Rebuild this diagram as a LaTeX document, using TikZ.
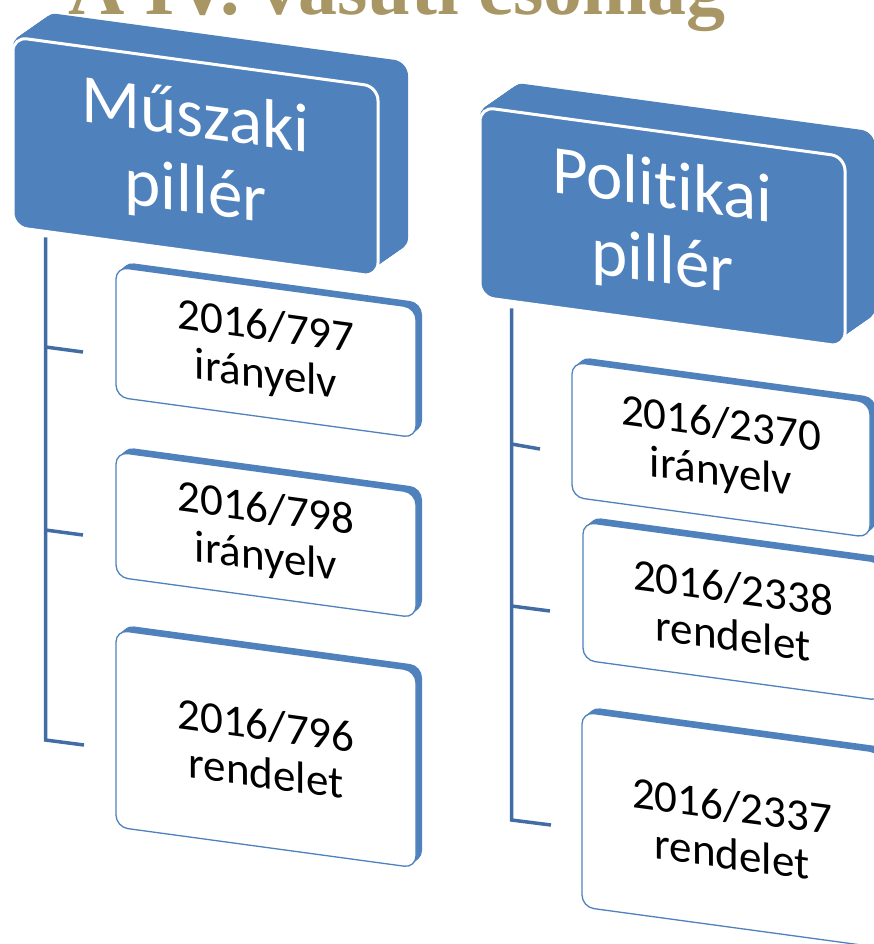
\documentclass[tikz,border=0pt]{standalone}
\usepackage{fontspec}
\setmainfont{Carlito}[RawFeature={-liga}]
\newfontfamily\titlefont{Liberation Serif}
\usetikzlibrary{positioning,calc}

\definecolor{pillarblue}{RGB}{79,129,189}
\definecolor{linkblue}{RGB}{66,109,164}
\definecolor{titlegold}{RGB}{168,150,100}

\tikzset{
  pillar/.style={fill=pillarblue, draw=white, line width=3pt, rounded corners=14pt,
    minimum width=365pt, minimum height=190pt, inner sep=0pt, align=center,
    text=white, font=\fontsize{69}{76}\selectfont, transform shape},
  act/.style={fill=white, draw=pillarblue, line width=1.3pt, rounded corners=12pt,
    inner sep=0pt, align=center, font=\fontsize{45}{48}\selectfont, transform shape},
  link/.style={draw=linkblue, line width=3.5pt},
}

\begin{document}
\begin{tikzpicture}[x=1pt, y=-1pt]
\useasboundingbox (0,0) rectangle (874,944);
\clip (0,0) rectangle (874,944);

% Pillars
\foreach \name/\bx/\by/\first/\second in {muszaki/13/33/Műszaki/pillér, politikai/480/103/Politikai/pillér} {
  \begin{scope}[shift={(\bx,\by)}, yslant=-0.136]
    \foreach \k in {0,...,30}
      \fill[pillarblue, rounded corners=14pt] (\k,-\k*25/30) rectangle ++(365,190);
    \node[pillar] (\name) at (182.5,99) {\first\\\second};
  \end{scope}
}

% Acts under the pillars
\foreach \name/\bx/\by/\w/\h/\num/\kind in {
    a797/116/267/300/130/{2016/797}/irányelv,
    a798/116/452/300/125/{2016/798}/irányelv,
    a796/116/630/300/197/{2016/796}/rendelet,
    a2370/572/362/298/135/{2016/2370}/irányelv,
    a2338/583/522/300/138/{2016/2338}/rendelet,
    a2337/582/712/300/195/{2016/2337}/rendelet} {
  \begin{scope}[shift={(\bx,\by)}, yslant=-0.136]
    \foreach \k in {1,...,6}
      \fill[pillarblue, rounded corners=12pt] (\k,-\k) rectangle ++(\w,\h);
    \node[act, minimum width=\w pt, minimum height=\h pt] (\name) at (\w/2,\h/2) {\num\\\kind};
  \end{scope}
}

% Brackets
\coordinate (mtop) at ($(muszaki.south west)+(34,9)$);
\coordinate (ptop) at ($(politikai.south west)+(33,10)$);
\coordinate (t797) at (83,352);
\coordinate (t798) at (83,535);
\coordinate (t796) at (84,745);
\coordinate (t2370) at (540,449);
\coordinate (t2338) at (550,611);
\coordinate (t2337) at (551,825);

\draw[link] (mtop) -- ($(mtop |- t796)+(0,-5)$) -- (t796);
\draw[link] (ptop) -- ($(ptop |- t2337)+(0,-5)$) -- (t2337);
\foreach \t in {t797,t798}
  \draw[link] ($(mtop |- \t)+(0,-5)$) -- (\t);
\foreach \t in {t2370,t2338}
  \draw[link] ($(ptop |- \t)+(0,-5)$) -- (\t);

% Title
\node[font=\titlefont\bfseries\fontsize{78}{80}\selectfont, text=titlegold,
  anchor=base west, inner sep=0pt] (title) at (68,15) {A IV. vasúti csomag};

\end{tikzpicture}
\end{document}
